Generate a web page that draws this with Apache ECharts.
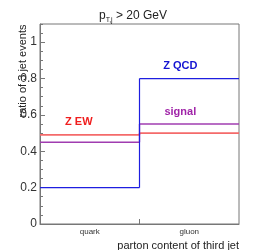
<!DOCTYPE html>
<html><head><meta charset="utf-8">
<script src="https://cdn.jsdelivr.net/npm/echarts@6/dist/echarts.min.js"></script>
<style>html,body{margin:0;padding:0;background:#fff}#c{width:266px;height:250px}</style>
</head><body><div id="c"></div>
<script>
const categories = ['quark', 'gluon'];
const binEdges = [0, 1, 2];
const zQCD = [0.2, 0.8];
const zEW = [0.49, 0.5];
const signal = [0.45, 0.55];
const yTicks = [0, 0.2, 0.4, 0.6, 0.8, 1];
const labels = [
  {name: 'Z QCD', coord: [1.41, 0.87], color: '#1414d2'},
  {name: 'signal', coord: [1.41, 0.615], color: '#a024a8'},
  {name: 'Z EW', coord: [0.39, 0.563], color: '#f01e1e'}
];
const FONT = '"Liberation Sans", Arial, sans-serif';

// one data item per bin: [leftEdge, rightEdge, value, nextValue (or NaN)]
function binData(vals) {
  return vals.map((v, i) => [binEdges[i], binEdges[i + 1], v,
    i + 1 < vals.length ? vals[i + 1] : NaN]);
}
function mk(name, vals, color, width) {
  return {
    type: 'custom', name: name, data: binData(vals), silent: true, animation: false,
    clip: true,
    renderItem: function (params, api) {
      const a = api.coord([api.value(0), api.value(2)]);
      const b = api.coord([api.value(1), api.value(2)]);
      const style = {stroke: color, lineWidth: width, fill: null};
      const children = [{type: 'line', shape: {x1: a[0], y1: a[1], x2: b[0], y2: b[1]}, style: style}];
      const nv = api.value(3);
      if (!isNaN(nv)) {
        const c = api.coord([api.value(1), nv]);
        children.push({type: 'line', shape: {x1: b[0], y1: b[1], x2: c[0], y2: c[1]}, style: style});
      }
      return {type: 'group', children: children};
    }
  };
}
const series = [
  mk('Z EW', zEW, '#f46a6a', 1.6),
  mk('signal', signal, '#a03cb0', 1.4),
  mk('Z QCD', zQCD, '#1e1ee0', 1.2)
];
series.push({
  type: 'scatter', data: [], silent: true, animation: false,
  markPoint: {
    symbolSize: 0,
    data: labels.map(l => ({coord: l.coord, value: l.name,
      label: {show: true, formatter: l.name, color: l.color, fontWeight: 'bold', fontSize: 11,
        fontFamily: FONT, position: 'inside'}}))
  }
});

const chart = echarts.init(document.getElementById('c'), null, {renderer: 'canvas'});
chart.setOption({
  animation: false,
  title: {
    text: '{a|p}{s|T,j}{a| > 20 GeV}',
    left: 94, top: 3,
    textStyle: {rich: {
      a: {fontSize: 12, fontFamily: FONT, color: '#222', fontWeight: 'normal'},
      s: {fontSize: 7, fontFamily: FONT, color: '#222', fontWeight: 'normal', verticalAlign: 'bottom', padding: [9, 0, 0, 0]}
    }}
  },
  grid: {left: 40, right: 27, top: 24, bottom: 26, show: true, borderColor: '#777', borderWidth: 1,
    outerBoundsMode: 'none', containLabel: false},
  xAxis: {
    type: 'value', min: 0, max: 2, interval: 1,
    name: 'parton content of third jet', nameLocation: 'end', nameGap: 0, nameMoveOverlap: false,
    nameTextStyle: {fontSize: 11, fontFamily: FONT, color: '#222', align: 'right', verticalAlign: 'top', padding: [16, 0, 0, 0]},
    axisLine: {show: true, lineStyle: {color: '#777'}},
    axisTick: {show: true, inside: true, length: 5, customValues: [1], lineStyle: {color: '#777'}},
    axisLabel: {customValues: [0.5, 1.5], formatter: v => categories[Math.floor(v)],
      fontSize: 8, fontFamily: FONT, color: '#333', margin: 4},
    splitLine: {show: false}
  },
  yAxis: [{
    type: 'value', min: 0, max: 1.1, interval: 0.2,
    name: 'ratio of 3 jet events', nameLocation: 'middle', nameGap: 12, nameRotate: 90, nameMoveOverlap: false,
    nameTextStyle: {fontSize: 11, fontFamily: FONT, color: '#222', padding: [0, 0, 0, 106]},
    axisLine: {show: true, lineStyle: {color: '#777'}},
    axisTick: {show: true, inside: true, length: 5, lineStyle: {color: '#777'}},
    axisLabel: {fontSize: 12, fontFamily: FONT, color: '#333', margin: 3, showMaxLabel: false,
      formatter: v => (yTicks.some(t => Math.abs(t - v) < 1e-9) ? String(Math.round(v * 10) / 10) : '')},
    splitLine: {show: false}
  }, {
    type: 'value', min: 0, max: 1.1, interval: 0.05, position: 'left',
    axisLine: {show: false},
    axisTick: {show: true, inside: true, length: 3, lineStyle: {color: '#777'}},
    axisLabel: {show: false},
    splitLine: {show: false}
  }],
  series: series
});
</script></body></html>
